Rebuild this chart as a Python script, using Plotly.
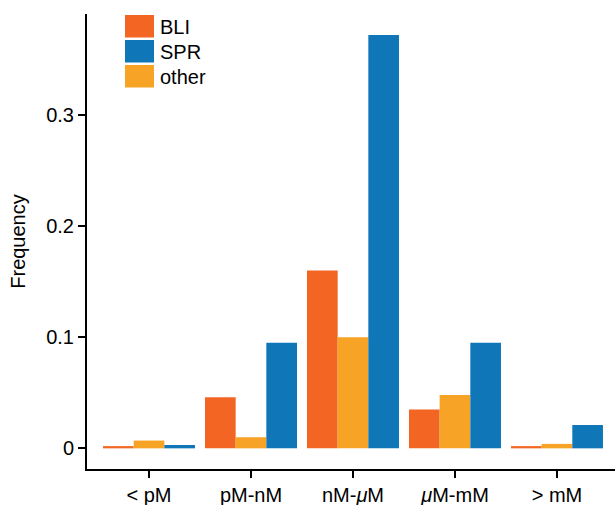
import plotly.graph_objects as go

categories = ["< pM", "pM-nM", "nM-<i>μ</i>M", "<i>μ</i>M-mM", "> mM"]
bli = [0.002, 0.046, 0.160, 0.035, 0.002]
other = [0.007, 0.010, 0.100, 0.048, 0.004]
spr = [0.003, 0.095, 0.372, 0.095, 0.021]

series = [("BLI", bli, "#F26522"), ("other", other, "#F7A325"), ("SPR", spr, "#0F77B8")]
legend_order = ["BLI", "SPR", "other"]
colors = {n: c for n, _, c in series}

fig = go.Figure()
for name, vals, col in series:
    fig.add_trace(go.Bar(x=list(range(len(categories))), y=vals, name=name,
                         marker=dict(color=col, line=dict(width=0)), showlegend=False))

font = dict(family="Liberation Sans, Arial, sans-serif", size=20, color="black")
W, H = 615, 505
ml, mr, mt, mb = 87, 0, 14, 36
pw, ph = W - ml - mr, H - mt - mb

def px_x(x):
    return (x - ml) / pw

def px_y(y):
    return (H - mb - y) / ph

for i, name in enumerate(legend_order):
    y0 = 15 + i * 25
    fig.add_shape(type="rect", xref="paper", yref="paper",
                  x0=px_x(125), x1=px_x(154), y0=px_y(y0 + 22.5), y1=px_y(y0),
                  fillcolor=colors[name], line=dict(width=0))
    fig.add_annotation(xref="paper", yref="paper", x=px_x(158), y=px_y(y0 + 12),
                       text=name, showarrow=False, xanchor="left", yanchor="middle",
                       font=font)

fig.update_layout(
    width=W, height=H, margin=dict(l=ml, r=mr, t=mt, b=mb),
    plot_bgcolor="white", paper_bgcolor="white",
    barmode="group", bargap=0.098, bargroupgap=0,
    font=font,
    xaxis=dict(tickmode="array", tickvals=list(range(len(categories))), ticktext=categories,
               range=[-0.608, 4.569], showline=True, linecolor="black", linewidth=2,
               ticks="outside", ticklen=7, tickwidth=2, tickcolor="black",
               showgrid=False, zeroline=False, tickfont=font),
    yaxis=dict(range=[-0.0186, 0.391], tickvals=[0, 0.1, 0.2, 0.3],
               ticktext=["0", "0.1", "0.2", "0.3"],
               showline=True, linecolor="black", linewidth=2,
               ticks="outside", ticklen=7, tickwidth=2, tickcolor="black",
               showgrid=False, zeroline=False, tickfont=font,
               title=dict(text="Frequency", font=font, standoff=15)),
)

fig.write_html("out.html", config={"displayModeBar": False},
               post_script="document.body.style.margin='0';document.body.style.overflow='hidden';")
